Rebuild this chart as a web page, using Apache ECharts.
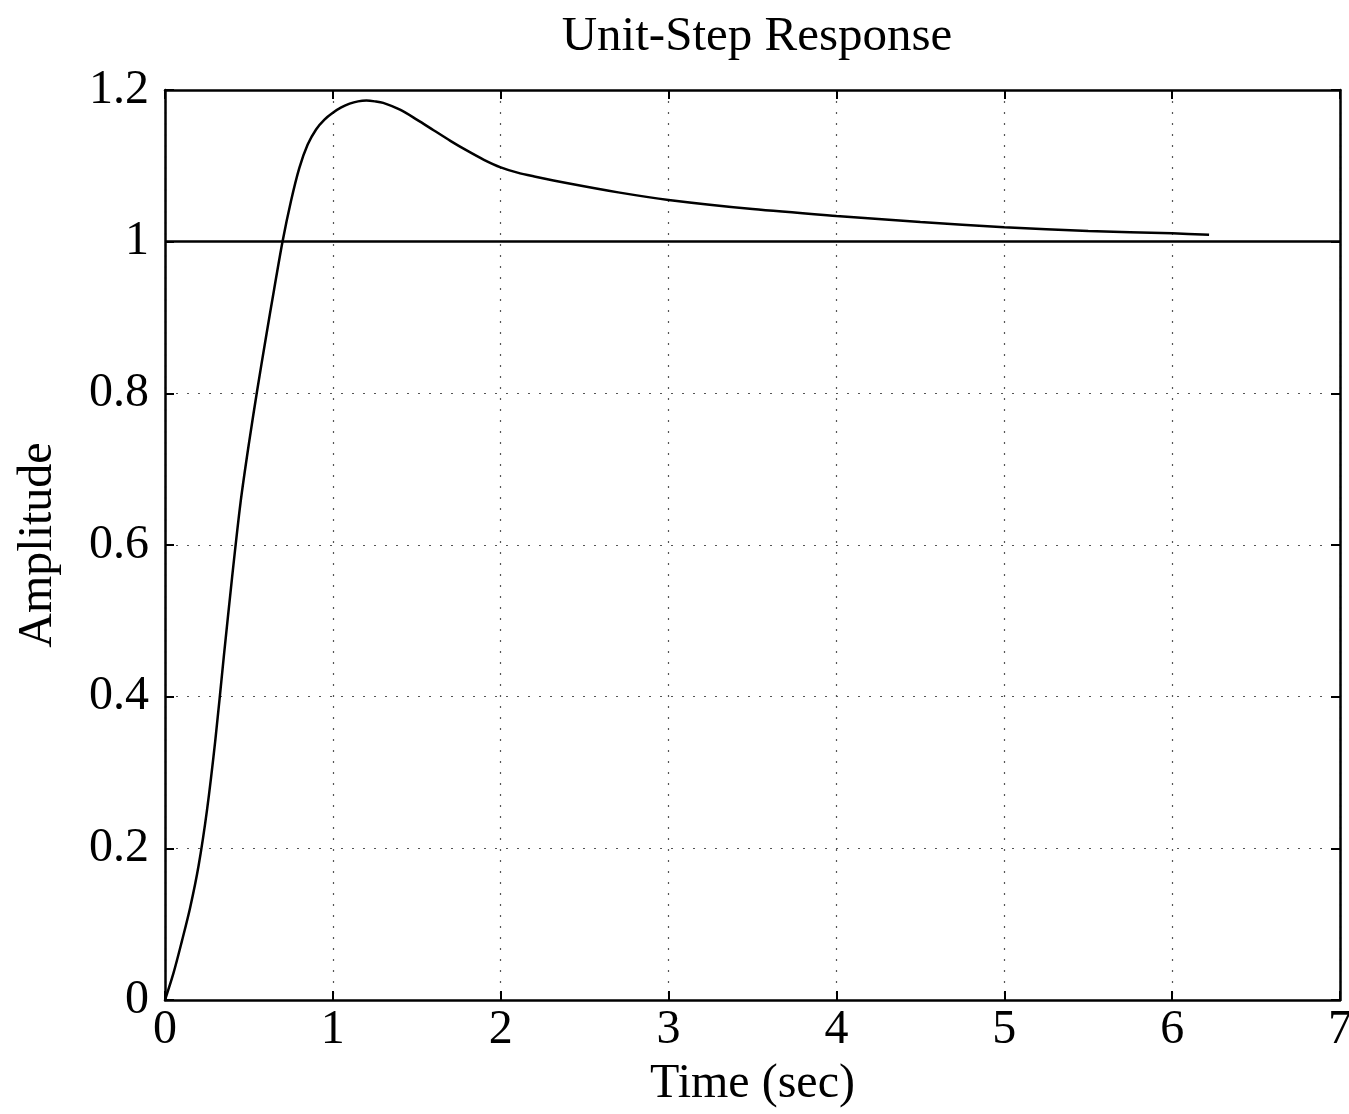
<!DOCTYPE html>
<html>
<head>
<meta charset="utf-8">
<title>Unit-Step Response</title>
<script src="https://cdn.jsdelivr.net/npm/echarts@6/dist/echarts.min.js"></script>
<style>
  html, body { margin: 0; padding: 0; background: #fff; }
  #main { width: 1349px; height: 1114px; }
</style>
</head>
<body>
<div id="main"></div>
<script>
// values
var time = [0, 0.05, 0.1, 0.15, 0.2, 0.25, 0.3, 0.35, 0.4, 0.45, 0.5, 0.55, 0.6, 0.65, 0.7, 0.75, 0.8, 0.85, 0.9, 0.95, 1.0, 1.05, 1.1, 1.15, 1.2, 1.25, 1.3, 1.4, 1.5, 1.6, 1.7, 1.8, 1.9, 2.0, 2.1, 2.2, 2.4, 2.7, 3.0, 3.5, 4.0, 4.5, 5.0, 5.5, 6.0, 6.22];
var amplitude = [0, 0.035, 0.077, 0.122, 0.177, 0.25, 0.343, 0.452, 0.558, 0.656, 0.734, 0.805, 0.872, 0.937, 1.0, 1.053, 1.097, 1.128, 1.148, 1.161, 1.17, 1.177, 1.182, 1.185, 1.186, 1.185, 1.183, 1.174, 1.161, 1.147, 1.133, 1.12, 1.108, 1.098, 1.091, 1.086, 1.077, 1.065, 1.055, 1.043, 1.034, 1.026, 1.019, 1.014, 1.011, 1.009];
var xTicks = [0, 1, 2, 3, 4, 5, 6, 7];
var yTicks = [0, 0.2, 0.4, 0.6, 0.8, 1, 1.2];
var refLevel = 1;

var chart = echarts.init(document.getElementById('main'));

var font = '"Liberation Serif", "DejaVu Serif", serif';
var points = time.map(function (t, i) { return [t, amplitude[i]]; });

function axisBase(pos, ticks, showLabel) {
  return {
    type: 'value',
    position: pos,
    min: ticks[0],
    max: ticks[ticks.length - 1],
    interval: ticks[1] - ticks[0],
    axisLine: { show: true, onZero: false, lineStyle: { color: '#000', width: 2.5 } },
    axisTick: { show: true, inside: true, length: 9, lineStyle: { color: '#000', width: 2 } },
    axisLabel: { show: showLabel, color: '#000', fontFamily: font, fontSize: 48 },
    splitLine: { show: false }
  };
}

var xBottom = axisBase('bottom', xTicks, true);
xBottom.axisLabel.margin = 6;
xBottom.splitLine = { show: true, lineStyle: { color: '#555', type: [2, 9], width: 1.2 } };
xBottom.name = 'Time (sec)';
xBottom.nameLocation = 'middle';
xBottom.nameGap = 60;
xBottom.nameTextStyle = { color: '#000', fontFamily: font, fontSize: 48 };

var yLeft = axisBase('left', yTicks, true);
yLeft.axisLabel.margin = 16;
yLeft.splitLine = { show: true, lineStyle: { color: '#555', type: [2, 9], width: 1.2 } };
yLeft.name = 'Amplitude';
yLeft.nameLocation = 'middle';
yLeft.nameGap = 103;
yLeft.nameTextStyle = { color: '#000', fontFamily: font, fontSize: 48 };

var option = {
  backgroundColor: '#fff',
  animation: false,
  title: {
    text: 'Unit-Step Response',
    left: 752,
    top: 8,
    textAlign: 'center',
    textStyle: { color: '#000', fontFamily: font, fontSize: 49, fontWeight: 'normal' }
  },
  grid: { left: 165, right: 9, top: 90, bottom: 114, outerBoundsMode: 'none' },
  xAxis: [xBottom, axisBase('top', xTicks, false)],
  yAxis: [yLeft, axisBase('right', yTicks, false)],
  series: [{
    type: 'line',
    data: points,
    xAxisIndex: 0,
    yAxisIndex: 0,
    showSymbol: false,
    smooth: 0.3,
    lineStyle: { color: '#000', width: 2.5 },
    markLine: {
      silent: true,
      symbol: 'none',
      label: { show: false },
      lineStyle: { color: '#000', width: 2.5, type: 'solid' },
      data: [{ yAxis: refLevel }]
    }
  }]
};

chart.setOption(option);
</script>
</body>
</html>
